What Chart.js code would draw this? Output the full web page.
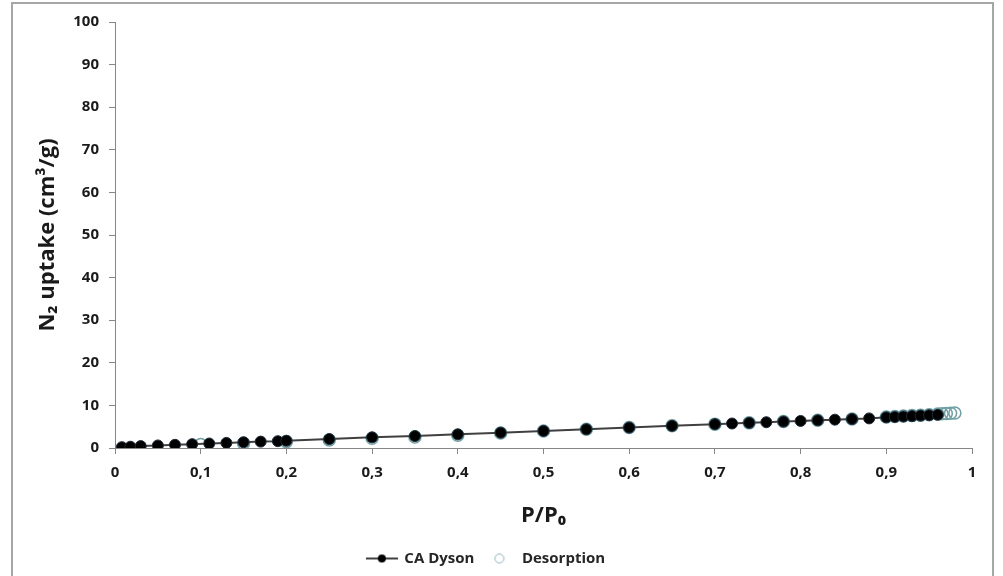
<!DOCTYPE html>
<html>
<head>
<meta charset="utf-8">
<script src="https://cdn.jsdelivr.net/npm/chart.js@4"></script>
<style>
  html, body { margin: 0; padding: 0; background: #fff; }
  #wrap { width: 1003px; height: 576px; }
</style>
</head>
<body>
<div id="wrap"><canvas id="myChart" width="1003" height="576"></canvas></div>
<script>
// adsorption branch (CA Dyson)
const adsP = [0.008, 0.018, 0.03, 0.05, 0.07, 0.09, 0.11, 0.13, 0.15, 0.17, 0.19, 0.2,
    0.25, 0.3, 0.35, 0.4, 0.45, 0.5, 0.55, 0.6, 0.65, 0.7, 0.72, 0.74, 0.76, 0.78,
    0.8, 0.82, 0.84, 0.86, 0.88, 0.9, 0.91, 0.92, 0.93, 0.94, 0.95, 0.96];
const adsUptake = [0.2, 0.3, 0.45, 0.6, 0.75, 0.9, 1.05, 1.2, 1.35, 1.5, 1.6, 1.7,
    2.1, 2.5, 2.8, 3.2, 3.6, 4.0, 4.4, 4.8, 5.2, 5.6, 5.75, 5.9, 6.05, 6.2,
    6.35, 6.5, 6.65, 6.8, 6.95, 7.2, 7.3, 7.4, 7.5, 7.6, 7.7, 7.8];

// desorption branch
const desP = [0.98, 0.975, 0.97, 0.965, 0.96, 0.95, 0.94, 0.93, 0.92, 0.91, 0.9,
    0.86, 0.82, 0.78, 0.74, 0.7, 0.65, 0.6, 0.55, 0.5, 0.45, 0.4, 0.35, 0.3,
    0.25, 0.2, 0.15, 0.1];
const desUptake = [8.2, 8.15, 8.1, 8.05, 8.0, 7.8, 7.7, 7.6, 7.5, 7.4, 7.3,
    6.8, 6.5, 6.2, 5.9, 5.6, 5.2, 4.8, 4.4, 4.0, 3.5, 3.0, 2.6, 2.3,
    1.9, 1.5, 1.1, 0.8];

const FONT = '"Open Sans", "Liberation Sans", sans-serif';

// legend icons
function makeIcon(withLine) {
    const cv = document.createElement('canvas');
    cv.width = 32;
    cv.height = 12;
    const c = cv.getContext('2d');
    if (withLine) {
        c.strokeStyle = '#404040';
        c.lineWidth = 2;
        c.beginPath();
        c.moveTo(0, 6);
        c.lineTo(32, 6);
        c.stroke();
        c.fillStyle = '#000';
        c.beginPath();
        c.arc(16, 6, 4, 0, Math.PI * 2);
        c.fill();
    } else {
        c.strokeStyle = '#8fb4b7';
        c.lineWidth = 1;
        c.beginPath();
        c.arc(16, 6, 4.5, 0, Math.PI * 2);
        c.stroke();
    }
    return cv;
}
const lineIcon = makeIcon(true);
const ringIcon = makeIcon(false);

// grey frame round the whole chart
const framePlugin = {
    id: 'frame',
    afterDraw(chart) {
        const c = chart.ctx;
        c.save();
        c.strokeStyle = '#a6a6a6';
        c.lineWidth = 2;
        c.beginPath();
        c.moveTo(12, 576);
        c.lineTo(12, 3);
        c.lineTo(993, 3);
        c.lineTo(993, 576);
        c.stroke();
        c.restore();
    }
};

const ctx = document.getElementById('myChart');

const chart = new Chart(ctx, {
    type: 'scatter',
    data: {
        datasets: [{
            label: 'CA Dyson',
            data: adsP.map((p, i) => ({ x: p, y: adsUptake[i] })),
            showLine: true,
            borderColor: '#404040',
            borderWidth: 2,
            pointRadius: 5.5,
            pointBackgroundColor: '#000',
            pointBorderColor: '#1b2a38',
            pointBorderWidth: 1,
            order: 1
        }, {
            label: 'Desorption',
            data: desP.map((p, i) => ({ x: p, y: desUptake[i] })),
            showLine: false,
            pointRadius: 6,
            pointBackgroundColor: 'rgba(0,0,0,0)',
            pointBorderColor: '#6f9fa3',
            pointBorderWidth: 1.5,
            order: 2
        }]
    },
    options: {
        responsive: false,
        animation: false,
        layout: {
            padding: { left: 0, right: 31, top: 22, bottom: 0 }
        },
        plugins: {
            tooltip: { enabled: false },
            legend: {
                position: 'bottom',
                labels: {
                    usePointStyle: true,
                    pointStyleWidth: 30,
                    padding: 10,
                    color: '#262626',
                    font: { family: FONT, size: 15, weight: 'bold' },
                    generateLabels(chart) {
                        return [{
                            text: 'CA Dyson',
                            pointStyle: lineIcon,
                            fillStyle: '#000',
                            strokeStyle: '#404040',
                            lineWidth: 0,
                            datasetIndex: 0,
                            fontColor: '#262626'
                        }, {
                            text: 'Desorption',
                            pointStyle: ringIcon,
                            fillStyle: 'rgba(0,0,0,0)',
                            strokeStyle: '#8fb4b7',
                            lineWidth: 0,
                            datasetIndex: 1,
                            fontColor: '#262626'
                        }];
                    }
                }
            }
        },
        scales: {
            x: {
                type: 'linear',
                min: 0,
                max: 1,
                ticks: {
                    stepSize: 0.1,
                    padding: 10,
                    color: '#1a1a1a',
                    font: { family: FONT, size: 15, weight: 'bold' },
                    callback: (v) => {
                        if (Math.abs(v) < 1e-9) return '0';
                        if (Math.abs(v - 1) < 1e-9) return '1';
                        return v.toFixed(1).replace('.', ',');
                    }
                },
                grid: {
                    drawOnChartArea: false,
                    drawTicks: true,
                    tickLength: 6,
                    color: '#868686'
                },
                border: { color: '#868686', width: 1 },
                title: {
                    display: true,
                    text: 'P/P\u2080',
                    color: '#1a1a1a',
                    font: { family: FONT, size: 22, weight: 'bold' },
                    padding: { top: 4, bottom: 12 }
                },
                afterFit: (scale) => {
                    const lh = scale.chart.legend ? scale.chart.legend.height : 37;
                    scale.height = 576 - 448 - lh;
                }
            },
            y: {
                min: 0,
                max: 100,
                ticks: {
                    stepSize: 10,
                    padding: 10,
                    color: '#1a1a1a',
                    font: { family: FONT, size: 15, weight: 'bold' }
                },
                grid: {
                    drawOnChartArea: false,
                    drawTicks: true,
                    tickLength: 6,
                    color: '#868686'
                },
                border: { color: '#868686', width: 1 },
                title: {
                    display: true,
                    text: 'N\u2082 uptake (cm\u00b3/g)',
                    color: '#1a1a1a',
                    font: { family: FONT, size: 22, weight: 'bold' },
                    padding: { top: 35, bottom: 0 }
                },
                afterFit: (scale) => {
                    scale.width = 115;
                }
            }
        }
    },
    plugins: [framePlugin]
});
</script>
</body>
</html>
